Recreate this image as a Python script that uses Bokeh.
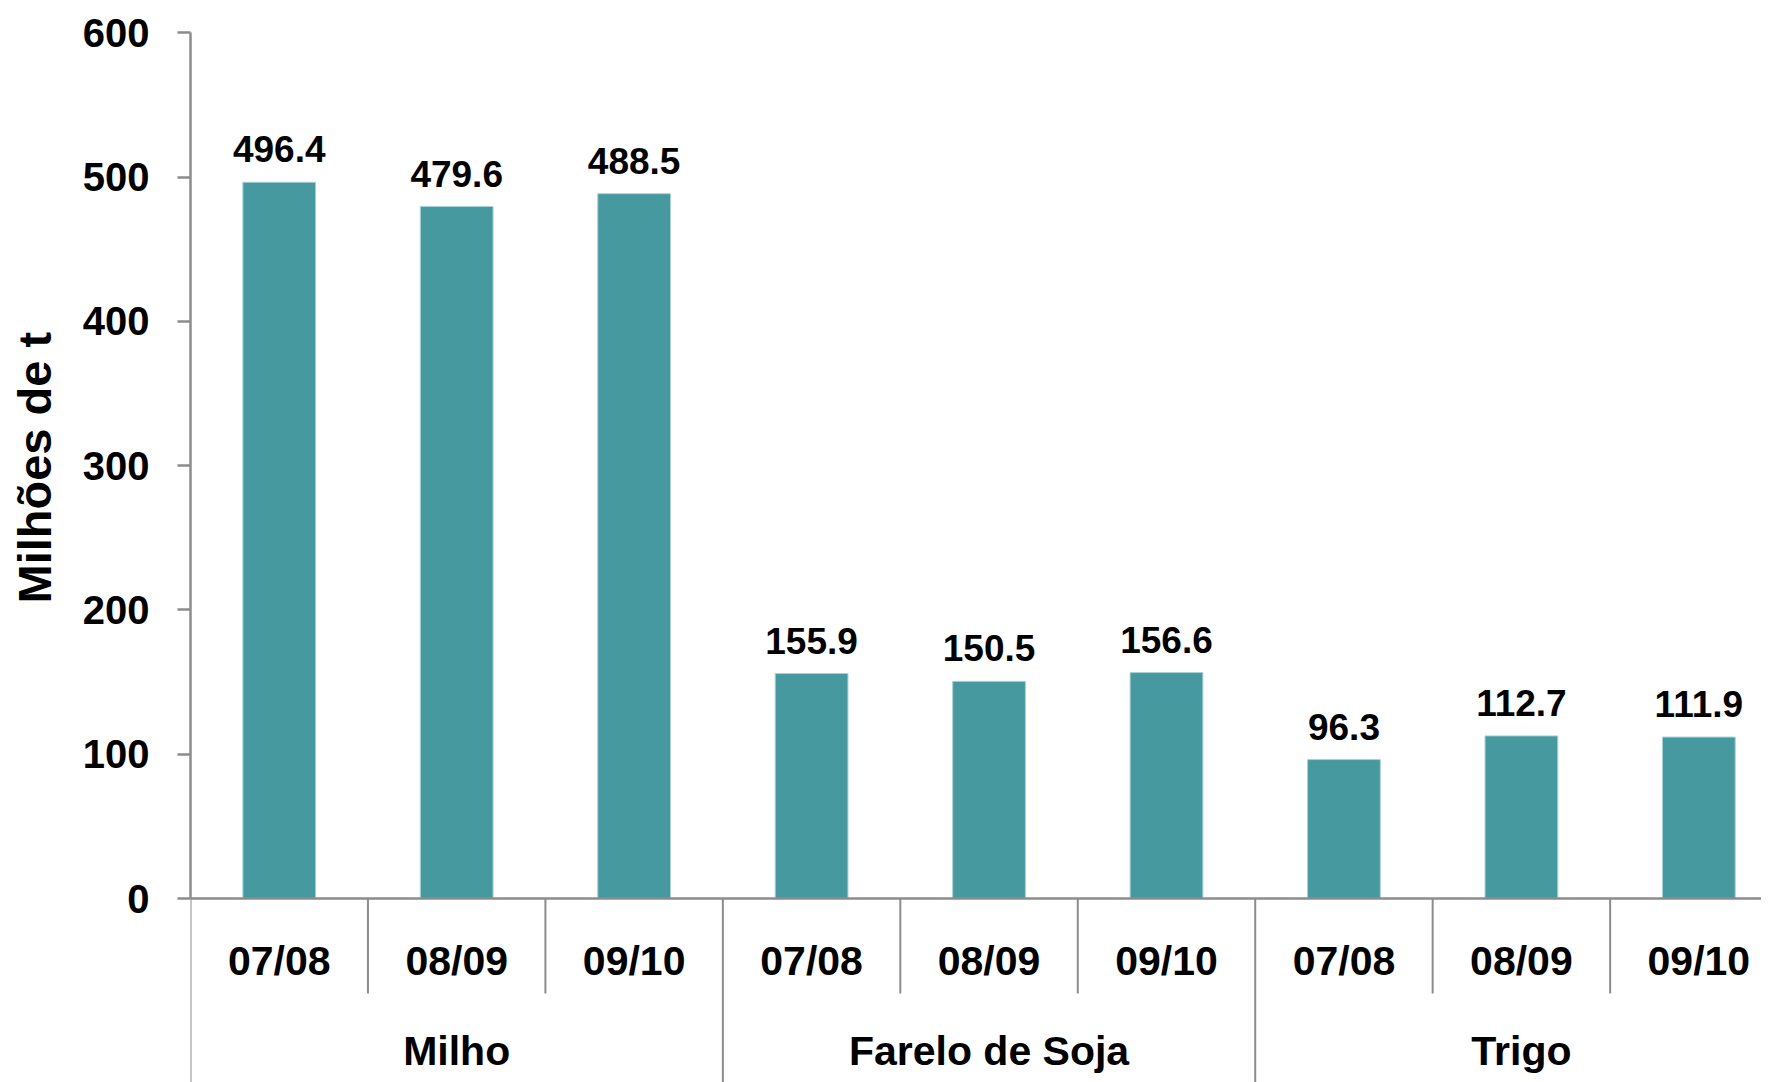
from bokeh.plotting import figure
from bokeh.models import ColumnDataSource, Range1d, FixedTicker, Title
from bokeh.core.properties import value
from bokeh.embed import file_html
from bokeh.resources import INLINE

# ---- data ----
groups = ["Milho", "Farelo de Soja", "Trigo"]
years = ["07/08", "08/09", "09/10"]
values = [496.4, 479.6, 488.5, 155.9, 150.5, 156.6, 96.3, 112.7, 111.9]
y_ticks = [0, 100, 200, 300, 400, 500, 600]
y_title = "Milhões de t"

FONT = "Liberation Sans"
BAR = "#4799A0"
AXIS = "#8C8C8C"

n_per = len(years)
n = len(values)
xs = [i + 0.5 for i in range(n)]
year_lbl = [years[i % n_per] for i in range(n)]
val_lbl = [f"{v:.1f}" for v in values]

SHIFT = 13
W, H = 1761 + SHIFT, 1082
px_per_unit = 1.443
y0_px = 898
y_top = 600 + 32.3 / px_per_unit
y_bot = -(H - y0_px) / px_per_unit
x_end = 8.853

p = figure(width=W, height=H, output_backend="svg", toolbar_location=None,
           x_range=Range1d(0, x_end), y_range=Range1d(y_bot, y_top),
           x_axis_location=None, min_border_left=0, min_border_right=0,
           min_border_top=0, min_border_bottom=0,
           styles={"margin-left": f"-{SHIFT}px"})
p.outline_line_color = None
p.grid.visible = False
p.background_fill_color = "white"
p.border_fill_color = "white"

src = ColumnDataSource(dict(x=xs, top=values, lbl=val_lbl, yl=year_lbl,
                            ly=[v + 10.4 for v in values]))
p.vbar(x="x", top="top", bottom=0, width=0.41, source=src,
       fill_color=BAR, line_color="#A8D2D5", line_width=1)

# value labels
p.text(x="x", y="ly", text="lbl", source=src, text_align="center",
       text_baseline="alphabetic", y_offset=-18,
       text_font=value(FONT), text_font_style="bold",
       text_font_size="37px", text_color="black")

# x axis baseline
p.segment(x0=[0], y0=[0], x1=[n], y1=[0], line_color=AXIS, line_width=2.5)

# year dividers
yd_end = -65.8
inner = [i for i in range(1, n) if i % n_per != 0]
p.segment(x0=inner, y0=[0] * len(inner), x1=inner, y1=[yd_end] * len(inner),
          line_color=AXIS, line_width=2)
outer = [i * n_per for i in range(len(groups) + 1)]
p.segment(x0=outer, y0=[0] * len(outer), x1=outer, y1=[y_bot] * len(outer),
          line_color=AXIS, line_width=2)

# year labels
p.text(x="x", y=-43.0, text="yl", source=src, text_align="center",
       text_baseline="middle", text_font=value(FONT), text_font_style="bold",
       text_font_size="41px", text_color="black")

# group labels
gx = [i * n_per + n_per / 2 for i in range(len(groups))]
p.text(x=gx, y=[-106.0] * len(groups), text=groups, text_align="center",
       text_baseline="middle", text_font=value(FONT), text_font_style="bold",
       text_font_size="41px", text_color="black")

# y axis
ax = p.yaxis[0]
ax.ticker = FixedTicker(ticks=y_ticks)
ax.bounds = (0, 600)
ax.axis_line_color = AXIS
ax.axis_line_width = 2.5
ax.major_tick_line_color = AXIS
ax.major_tick_line_width = 2.5
ax.major_tick_out = 13
ax.major_tick_in = 0
ax.minor_tick_line_color = None
ax.major_label_standoff = 28
ax.major_label_text_font = FONT
ax.major_label_text_font_style = "bold"
ax.major_label_text_font_size = "40px"
ax.major_label_text_color = "black"

# y title placed as a left-side title, positioned along the value area
t = Title(text=y_title, align="left", offset=479, standoff=37,
          text_font=FONT, text_font_style="bold", text_font_size="47px",
          text_color="black")
p.add_layout(t, "left")

open("out.html", "w").write(file_html(p, INLINE))
